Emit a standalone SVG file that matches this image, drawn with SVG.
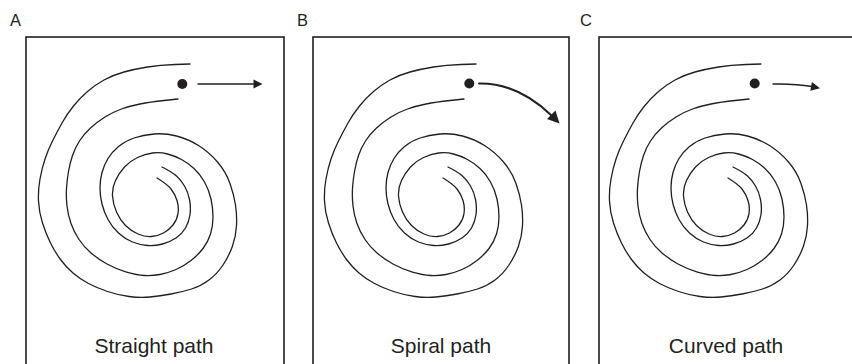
<svg xmlns="http://www.w3.org/2000/svg" xmlns:xlink="http://www.w3.org/1999/xlink" width="852" height="364" viewBox="0 0 852 364">
<style>
.frame{fill:none;stroke:#231f20;stroke-width:1.6}
.sp{fill:none;stroke:#231f20;stroke-width:1.3;stroke-linecap:round}
.lbl{font-family:"Liberation Sans",Arial,sans-serif;font-size:16.5px;fill:#231f20}
.cap{font-family:"Liberation Sans",Arial,sans-serif;font-size:21px;fill:#231f20;text-anchor:middle}
.arr{fill:none;stroke:#231f20;stroke-linecap:round}
.head{fill:#231f20}
</style>
<defs>
<g id="spiral">
<path class="sp" d="M190,64 L175,64.5 Q160,65 147.5,67 Q135,69 124,72 Q113,75 104,80 Q95,85 87.5,91.5 Q80,98 73.5,106 Q67,114 62,123 Q57,132 52.5,141 Q48,150 45,159 Q42,168 40,179 Q38,190 38.5,201 Q39,212 42.5,223 Q46,234 50.5,243 Q55,252 60.5,259.5 Q66,267 73,273 Q80,279 88.5,283.5 Q97,288 107.5,291.5 Q118,295 129,296.5 Q140,298 150,297 Q160,296 171,294 Q182,292 191.5,289 Q201,286 209,280 Q217,274 223,265 Q229,256 232.5,246 Q236,236 236.5,225.5 Q237,215 235.5,205 Q234,195 230,183.5 Q226,172 217.5,162 Q209,152 198.5,145.5 Q188,139 176.5,136 Q165,133 154,134 Q143,135 134,138 Q125,141 118.5,146.5 Q112,152 108,158.5 Q104,165 102,172.5 Q100,180 100,188 Q100,196 102,204 Q104,212 108,219.5 Q112,227 118.5,233 Q125,239 132.5,242 Q140,245 147.5,245.5 Q155,246 162.5,244 Q170,242 176,238 Q182,234 185.5,228 Q189,222 190,214.5 Q191,207 189.5,199.5 Q188,192 184.5,186 Q181,180 176.5,176 Q172,172 162,167"/>
<path class="sp" d="M178,99 L164,100.5 Q150,102 140,104 Q130,106 121.5,109 Q113,112 105,117 Q97,122 90.5,128 Q84,134 79.5,141 Q75,148 72.5,155.5 Q70,163 68.5,171.5 Q67,180 66.5,188.5 Q66,197 67,206 Q68,215 71,223.5 Q74,232 79,239.5 Q84,247 91,253 Q98,259 107,264 Q116,269 126.5,272 Q137,275 144.5,275.5 Q152,276 160,274.5 Q168,273 176,269.5 Q184,266 191,260.5 Q198,255 203,248.5 Q208,242 210.5,234 Q213,226 213,217 Q213,208 211,199 Q209,190 204.5,182 Q200,174 194,168.5 Q188,163 181.5,159.5 Q175,156 167.5,154 Q160,152 152.5,153 Q145,154 137.5,157.5 Q130,161 124.5,167 Q119,173 115.5,180.5 Q112,188 112.5,196 Q113,204 116.5,212 Q120,220 125.5,225.5 Q131,231 138,234 Q145,237 151.5,236.5 Q158,236 163.5,233 Q169,230 173,225 Q177,220 178,213.5 Q179,207 177,200.5 Q175,194 171,189 Q167,184 157,178"/>
</g>
</defs>

<g id="panelA">
<text class="lbl" x="10" y="26">A</text>
<rect class="frame" x="26" y="37" width="258" height="340"/>
<use xlink:href="#spiral" href="#spiral"/>
<circle cx="182.3" cy="84" r="5" fill="#231f20"/>
<text class="cap" x="154" y="353">Straight path</text>
</g>

<g id="panelB">
<text class="lbl" x="297" y="26">B</text>
<rect class="frame" x="313" y="37" width="256" height="340"/>
<use xlink:href="#spiral" href="#spiral" transform="translate(286,0)"/>
<circle cx="469.3" cy="83.5" r="5" fill="#231f20"/>
<text class="cap" x="441" y="353">Spiral path</text>
</g>

<g id="panelC">
<text class="lbl" x="580" y="26">C</text>
<rect class="frame" x="599" y="37" width="270" height="340"/>
<use xlink:href="#spiral" href="#spiral" transform="translate(571,0)"/>
<circle cx="754.7" cy="83.5" r="5" fill="#231f20"/>
<text class="cap" x="726" y="353">Curved path</text>
</g>

<g id="connectors">
<line class="arr" x1="198" y1="84" x2="255" y2="84" stroke-width="1.3"/>
<polygon class="head" points="262.5,84 253.5,79.5 253.5,88.5"/>
<path class="arr" d="M479,83.5 C505,83 530,95 551,115" stroke-width="2"/>
<polygon class="head" points="559.5,123.5 547,119 555.5,110.5"/>
<path class="arr" d="M773,84 Q795,83.5 812,86.5" stroke-width="1.5"/>
<polygon class="head" points="820,88.3 811.9,82 810.3,90.8"/>
</g>
</svg>
